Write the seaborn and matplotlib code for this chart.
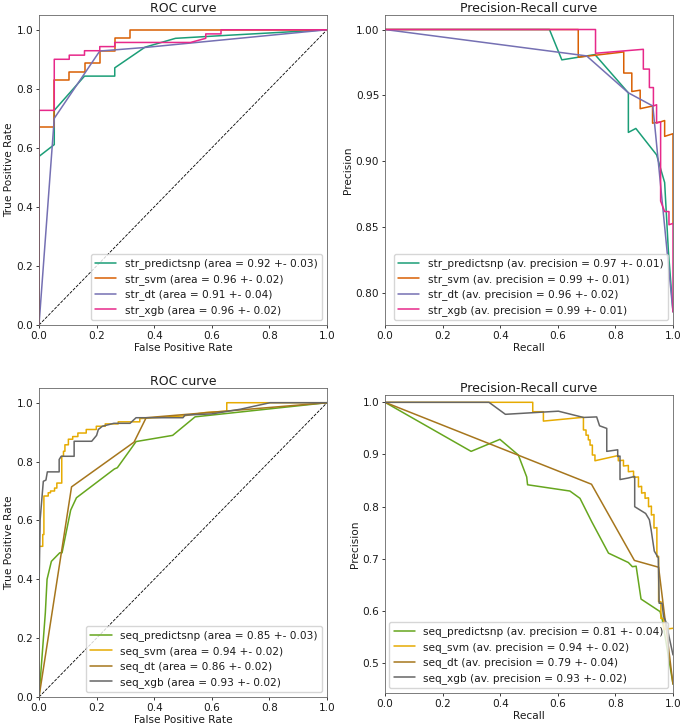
import numpy as np
import pandas as pd
import matplotlib
matplotlib.use("Agg")
import matplotlib.pyplot as plt
import seaborn as sns

# ---------------- data ----------------
STR_LABELS_ROC = ["str_predictsnp (area = 0.92 +- 0.03)", "str_svm (area = 0.96 +- 0.02)",
                  "str_dt (area = 0.91 +- 0.04)", "str_xgb (area = 0.96 +- 0.02)"]
STR_LABELS_PR = ["str_predictsnp (av. precision = 0.97 +- 0.01)", "str_svm (av. precision = 0.99 +- 0.01)",
                 "str_dt (av. precision = 0.96 +- 0.02)", "str_xgb (av. precision = 0.99 +- 0.01)"]
SEQ_LABELS_ROC = ["seq_predictsnp (area = 0.85 +- 0.03)", "seq_svm (area = 0.94 +- 0.02)",
                  "seq_dt (area = 0.86 +- 0.02)", "seq_xgb (area = 0.93 +- 0.02)"]
SEQ_LABELS_PR = ["seq_predictsnp (av. precision = 0.81 +- 0.04)", "seq_svm (av. precision = 0.94 +- 0.02)",
                 "seq_dt (av. precision = 0.79 +- 0.04)", "seq_xgb (av. precision = 0.93 +- 0.02)"]

STR_COLORS = ["#1b9e77", "#d95f02", "#7570b3", "#e7298a"]
SEQ_COLORS = ["#66a61e", "#e6ab02", "#a6761d", "#666666"]

DIAG = [0.0, 1.0]

# str ROC
STR_PRED_FPR = [0, 0, 0.053, 0.053, 0.158, 0.263, 0.263, 0.368, 0.474, 0.632, 1.0]
STR_PRED_TPR = [0, 0.571, 0.611, 0.727, 0.843, 0.843, 0.871, 0.941, 0.971, 0.98, 1.0]
STR_SVM_FPR = [0, 0, 0.053, 0.053, 0.105, 0.105, 0.158, 0.158, 0.211, 0.211, 0.263, 0.263, 0.316, 0.316, 1.0]
STR_SVM_TPR = [0, 0.671, 0.671, 0.829, 0.829, 0.857, 0.857, 0.886, 0.886, 0.929, 0.929, 0.971, 0.971, 1.0, 1.0]
STR_DT_FPR = [0, 0.053, 0.211, 0.368, 1.0]
STR_DT_TPR = [0, 0.70, 0.928, 0.94, 1.0]
STR_XGB_FPR = [0, 0, 0.053, 0.053, 0.105, 0.105, 0.158, 0.158, 0.211, 0.211, 0.263, 0.263,
               0.526, 0.579, 0.579, 0.632, 0.632, 1.0]
STR_XGB_TPR = [0, 0.727, 0.727, 0.9, 0.9, 0.914, 0.914, 0.929, 0.929, 0.943, 0.943, 0.957,
               0.957, 0.971, 0.986, 0.986, 1.0, 1.0]

# str PR
STR_PRED_REC = [0, 0.571, 0.614, 0.70, 0.729, 0.845, 0.845, 0.871, 0.943, 0.971, 0.984, 1.0]
STR_PRED_PREC = [1.0, 1.0, 0.977, 0.980, 0.981, 0.952, 0.922, 0.925, 0.905, 0.884, 0.832, 0.786]
STR_SVM_REC = [0, 0.671, 0.671, 0.829, 0.829, 0.857, 0.857, 0.886, 0.886, 0.929, 0.929, 0.957,
               0.971, 0.971, 1.0, 1.0]
STR_SVM_PREC = [1.0, 1.0, 0.979, 0.983, 0.967, 0.967, 0.953, 0.954, 0.940, 0.942, 0.929, 0.930,
                0.931, 0.919, 0.921, 0.853]
STR_DT_REC = [0, 0.70, 0.845, 0.93, 1.0]
STR_DT_PREC = [1.0, 0.980, 0.952, 0.942, 0.786]
STR_XGB_REC = [0, 0.731, 0.731, 0.897, 0.897, 0.918, 0.918, 0.932, 0.932, 0.943, 0.943, 0.957,
               0.957, 0.971, 0.986, 0.986, 1.0, 1.0]
STR_XGB_PREC = [1.0, 1.0, 0.982, 0.985, 0.970, 0.970, 0.956, 0.956, 0.942, 0.943, 0.929, 0.930,
                0.870, 0.862, 0.862, 0.852, 0.853, 0.786]

# seq ROC
SEQ_PRED_FPR = [0, 0.022, 0.028, 0.043, 0.072, 0.08, 0.11, 0.13, 0.262, 0.272, 0.316, 0.337, 0.464, 0.542, 1.0]
SEQ_PRED_TPR = [0, 0.286, 0.40, 0.461, 0.49, 0.49, 0.635, 0.677, 0.775, 0.779, 0.839, 0.868, 0.889, 0.952, 1.0]
SEQ_SVM_FPR = [0, 0, 0.013, 0.013, 0.017, 0.017, 0.032, 0.032, 0.04, 0.04, 0.054, 0.054, 0.062, 0.062,
               0.079, 0.079, 0.085, 0.085, 0.09, 0.09, 0.102, 0.102, 0.117, 0.117, 0.135, 0.135,
               0.164, 0.164, 0.199, 0.199, 0.23, 0.23, 0.275, 0.275, 0.35, 0.35, 0.5, 0.58, 0.652,
               0.652, 1.0]
SEQ_SVM_TPR = [0, 0.512, 0.512, 0.552, 0.552, 0.683, 0.683, 0.694, 0.694, 0.70, 0.70, 0.71, 0.71, 0.727,
               0.727, 0.818, 0.818, 0.835, 0.835, 0.857, 0.857, 0.876, 0.876, 0.885, 0.885, 0.897,
               0.897, 0.909, 0.909, 0.92, 0.92, 0.928, 0.928, 0.935, 0.935, 0.946, 0.955, 0.967, 0.971,
               1.0, 1.0]
SEQ_DT_FPR = [0, 0.113, 0.33, 0.372, 1.0]
SEQ_DT_TPR = [0, 0.714, 0.866, 0.949, 1.0]
SEQ_XGB_FPR = [0, 0, 0.004, 0.015, 0.024, 0.029, 0.07, 0.07, 0.077, 0.122, 0.122, 0.183, 0.2, 0.206,
               0.22, 0.26, 0.316, 0.337, 0.50, 0.507, 0.6, 0.7, 0.802, 1.0]
SEQ_XGB_TPR = [0, 0.36, 0.603, 0.733, 0.737, 0.765, 0.765, 0.807, 0.818, 0.818, 0.869, 0.869, 0.889,
               0.909, 0.92, 0.93, 0.93, 0.949, 0.949, 0.958, 0.962, 0.978, 1.0, 1.0]

# seq PR
SEQ_PRED_REC = [0, 0.299, 0.399, 0.463, 0.492, 0.495, 0.642, 0.677, 0.718, 0.776, 0.845, 0.859,
                0.872, 0.889, 0.955, 0.963, 1.0]
SEQ_PRED_PREC = [1.0, 0.906, 0.929, 0.899, 0.857, 0.842, 0.830, 0.816, 0.771, 0.711, 0.693, 0.685,
                 0.686, 0.623, 0.599, 0.583, 0.46]
SEQ_SVM_REC = [0, 0.513, 0.513, 0.55, 0.55, 0.683, 0.689, 0.689, 0.698, 0.698, 0.706, 0.706, 0.712,
               0.712, 0.72, 0.72, 0.729, 0.729, 0.81, 0.81, 0.828, 0.828, 0.845, 0.845, 0.863, 0.863,
               0.88, 0.88, 0.891, 0.891, 0.903, 0.903, 0.915, 0.915, 0.925, 0.925, 0.934, 0.934,
               0.944, 0.944, 0.95, 0.95, 0.958, 0.958, 0.968, 0.968, 1.0]
SEQ_SVM_PREC = [1.0, 1.0, 0.982, 0.982, 0.964, 0.971, 0.971, 0.947, 0.947, 0.937, 0.937, 0.928, 0.928,
                0.918, 0.918, 0.899, 0.899, 0.888, 0.898, 0.888, 0.889, 0.878, 0.879, 0.867, 0.868,
                0.856, 0.857, 0.838, 0.839, 0.826, 0.827, 0.816, 0.817, 0.800, 0.801, 0.784, 0.785,
                0.759, 0.760, 0.704, 0.705, 0.618, 0.618, 0.586, 0.586, 0.565, 0.567]
SEQ_DT_REC = [0, 0.717, 0.866, 0.95, 1.0]
SEQ_DT_PREC = [1.0, 0.843, 0.697, 0.684, 0.46]
SEQ_XGB_REC = [0, 0.361, 0.418, 0.602, 0.689, 0.735, 0.745, 0.77, 0.77, 0.808, 0.808, 0.816, 0.816,
               0.845, 0.867, 0.867, 0.905, 0.918, 0.924, 0.935, 0.949, 0.952, 0.962, 0.967, 0.975, 1.0]
SEQ_XGB_PREC = [1.0, 1.0, 0.977, 0.983, 0.971, 0.972, 0.955, 0.95, 0.906, 0.909, 0.896, 0.897, 0.852,
                0.855, 0.858, 0.80, 0.787, 0.775, 0.756, 0.715, 0.702, 0.615, 0.615, 0.59, 0.58, 0.516]

# ---------------- style ----------------
sns.set_style("ticks")
FS = 7.6
plt.rcParams.update({
    "font.family": ["DejaVu Sans"],
    "font.size": FS,
    "axes.titlesize": 9.0,
    "axes.labelsize": FS,
    "xtick.labelsize": FS,
    "ytick.labelsize": FS,
    "legend.fontsize": FS,
    "axes.linewidth": 0.6,
    "axes.edgecolor": "0.4",
    "xtick.major.size": 2.4,
    "ytick.major.size": 2.4,
    "xtick.major.width": 0.6,
    "ytick.major.width": 0.6,
    "xtick.major.pad": 1.8,
    "ytick.major.pad": 1.8,
    "xtick.color": "0.1",
    "ytick.color": "0.1",
    "text.color": "0.1",
    "axes.labelcolor": "0.1",
    "lines.linewidth": 1.1,
})

fig = plt.figure(figsize=(6.85, 7.26), dpi=100)
W, H = 685.0, 726.0


def add_ax(x0, x1, ytop, ybot):
    return fig.add_axes([x0 / W, 1 - ybot / H, (x1 - x0) / W, (ybot - ytop) / H])


ax_tl = add_ax(39, 327, 15, 325)
ax_tr = add_ax(385, 673, 15, 325)
ax_bl = add_ax(39, 327, 388, 697)
ax_br = add_ax(385, 673, 395, 693)


def draw(ax, xs, ys, labels, colors):
    for x, y, lab, c in zip(xs, ys, labels, colors):
        df = pd.DataFrame({"x": x, "y": y})
        sns.lineplot(data=df, x="x", y="y", ax=ax, color=c, label=lab,
                     estimator=None, sort=False, linewidth=1.1)


def finish(ax, title, xlabel, ylabel, ylim):
    ax.set_xlim(0, 1)
    ax.set_ylim(*ylim)
    ax.set_title(title, pad=2)
    ax.set_xlabel(xlabel, labelpad=1.5)
    ax.set_ylabel(ylabel, labelpad=1.5)
    ax.legend(loc="lower right", frameon=True, fancybox=True, framealpha=0.8,
              edgecolor="0.8", borderpad=0.4, labelspacing=0.42, handlelength=2.0)


# Top-left ROC
ax_tl.plot(DIAG, DIAG, linestyle="--", color="k", linewidth=0.6)
draw(ax_tl, [STR_PRED_FPR, STR_SVM_FPR, STR_DT_FPR, STR_XGB_FPR],
     [STR_PRED_TPR, STR_SVM_TPR, STR_DT_TPR, STR_XGB_TPR], STR_LABELS_ROC, STR_COLORS)
finish(ax_tl, "ROC curve", "False Positive Rate", "True Positive Rate", (0, 1.05))

# Top-right PR
draw(ax_tr, [STR_PRED_REC, STR_SVM_REC, STR_DT_REC, STR_XGB_REC],
     [STR_PRED_PREC, STR_SVM_PREC, STR_DT_PREC, STR_XGB_PREC], STR_LABELS_PR, STR_COLORS)
finish(ax_tr, "Precision-Recall curve", "Recall", "Precision", (0.776, 1.011))

# Bottom-left ROC
ax_bl.plot(DIAG, DIAG, linestyle="--", color="k", linewidth=0.6)
draw(ax_bl, [SEQ_PRED_FPR, SEQ_SVM_FPR, SEQ_DT_FPR, SEQ_XGB_FPR],
     [SEQ_PRED_TPR, SEQ_SVM_TPR, SEQ_DT_TPR, SEQ_XGB_TPR], SEQ_LABELS_ROC, SEQ_COLORS)
finish(ax_bl, "ROC curve", "False Positive Rate", "True Positive Rate", (0, 1.05))

# Bottom-right PR
draw(ax_br, [SEQ_PRED_REC, SEQ_SVM_REC, SEQ_DT_REC, SEQ_XGB_REC],
     [SEQ_PRED_PREC, SEQ_SVM_PREC, SEQ_DT_PREC, SEQ_XGB_PREC], SEQ_LABELS_PR, SEQ_COLORS)
finish(ax_br, "Precision-Recall curve", "Recall", "Precision", (0.443, 1.014))

fig.savefig("out.png", dpi=100)
